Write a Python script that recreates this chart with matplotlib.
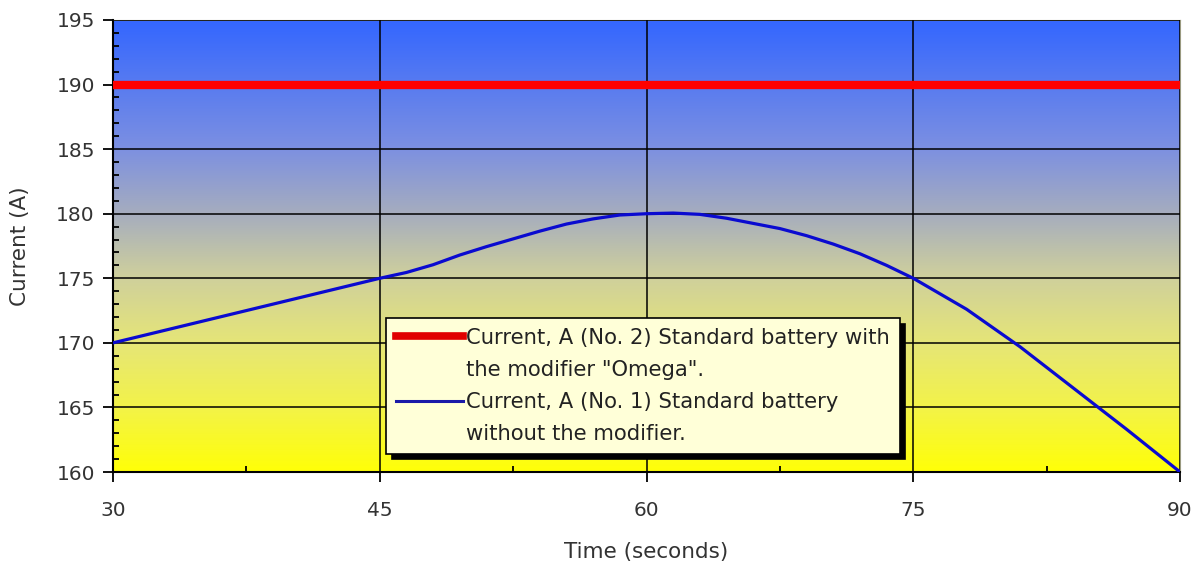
import numpy as np
import matplotlib.pyplot as plt
from matplotlib.colors import LinearSegmentedColormap
from matplotlib.lines import Line2D
from matplotlib.ticker import MultipleLocator

plt.rcParams['font.family'] = ['DejaVu Sans']

# data
time_s = [30, 33, 36, 39, 42, 45, 46.5, 48, 49.5, 51, 52.5, 54, 55.5, 57, 58.5, 60, 61.5,
          63, 64.5, 66, 67.5, 69, 70.5, 72, 73.5, 75, 78, 81, 84, 87, 90]
current_no1 = [170.0, 171.0, 172.0, 173.0, 174.0, 175.0, 175.45, 176.05, 176.8, 177.45, 178.05,
               178.65, 179.2, 179.6, 179.9, 180.0, 180.05, 179.95, 179.65, 179.25, 178.85,
               178.3, 177.65, 176.9, 176.0, 175.0, 172.6, 169.7, 166.5, 163.3, 160.0]
current_no2 = [190.0] * len(time_s)

label_no2 = ['Current, A (No. 2) Standard battery with', 'the modifier "Omega".']
label_no1 = ['Current, A (No. 1) Standard battery', 'without the modifier.']

fig = plt.figure(figsize=(11.99, 5.68), dpi=100)
ax = fig.add_axes([0.0942, 0.169, 0.89, 0.7958])

# blue-to-yellow vertical gradient background
cmap = LinearSegmentedColormap.from_list('bg', [
    (0.0, '#3366ff'), (0.28, '#7b8fe2'), (0.43, '#a6adbe'),
    (0.57, '#cfd09c'), (0.72, '#e6e676'), (0.86, '#f3f348'), (1.0, '#ffff08')])
grad = np.linspace(0, 1, 256).reshape(-1, 1)
ax.imshow(grad, cmap=cmap, aspect='auto', extent=[30, 90, 160, 195],
          origin='upper', zorder=0)

ax.plot(time_s, current_no2, color='#ff0000', lw=6, solid_capstyle='butt', zorder=3)
ax.plot(time_s, current_no1, color='#0a0ad0', lw=2.3, zorder=3)

ax.set_xlim(30, 90)
ax.set_ylim(160, 195)
ax.xaxis.set_major_locator(MultipleLocator(15))
ax.xaxis.set_minor_locator(MultipleLocator(7.5))
ax.yaxis.set_major_locator(MultipleLocator(5))
ax.yaxis.set_minor_locator(MultipleLocator(1))
ax.grid(True, which='major', color='black', lw=1.1, zorder=1)
ax.set_axisbelow(False)

ax.tick_params(which='major', direction='out', length=7, width=1.3, labelsize=14.5,
               labelcolor='#333333', pad=6)
ax.tick_params(axis='x', which='major', pad=14)
ax.tick_params(which='minor', direction='in', length=4, width=1.3)

for side in ['left', 'bottom']:
    ax.spines[side].set_linewidth(1.5)
for side in ['top', 'right']:
    ax.spines[side].set_color('#9a9a80')
    ax.spines[side].set_linewidth(0.8)

ax.set_xlabel('Time (seconds)', fontsize=15.5, color='#333333', labelpad=16)
ax.set_ylabel('Current (A)', fontsize=15.5, color='#333333', labelpad=19)

blank = Line2D([], [], color='none')
handles = [Line2D([], [], color='#e00000', lw=5.5), blank,
           Line2D([], [], color='#1a1aa8', lw=2.2), blank]
labels = [label_no2[0], label_no2[1], label_no1[0], label_no1[1]]
leg = ax.legend(handles, labels, loc='lower left', bbox_to_anchor=(0.256, 0.04),
                borderaxespad=0, fontsize=15.2, handlelength=3.2, handletextpad=0.15,
                labelspacing=0.58, borderpad=0.45, fancybox=False, framealpha=1,
                shadow={'color': 'black', 'alpha': 1, 'ox': 4, 'oy': -4})
leg.get_frame().set_facecolor('#ffffd8')
leg.get_frame().set_edgecolor('black')
leg.get_frame().set_linewidth(1.2)
for t in leg.get_texts():
    t.set_color('#222222')

fig.savefig('out.png', dpi=100)
